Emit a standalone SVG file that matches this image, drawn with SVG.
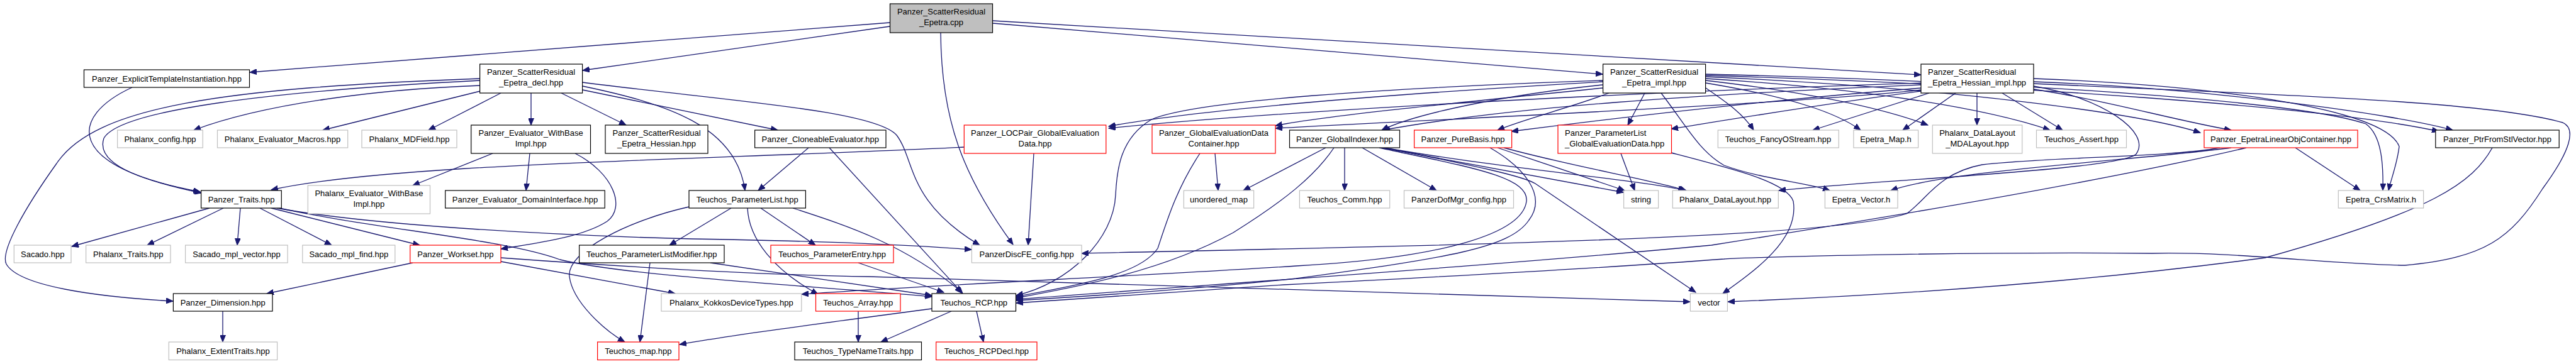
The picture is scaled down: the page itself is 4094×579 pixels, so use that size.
<svg xmlns="http://www.w3.org/2000/svg" width="4094" height="579" viewBox="0 0 4094 579">
<style>
.e path{fill:none;stroke:#191970;stroke-width:1.3;marker-end:url(#a)}
rect{fill:#fff;stroke:#000;stroke-width:1.2}
.g rect{stroke:#bfbfbf}
.r rect{stroke:#ff0000}
.c rect{fill:#bfbfbf}
text{font-family:"Liberation Sans",Arial,Helvetica,sans-serif;font-size:13px;fill:#000;text-anchor:middle}
text.l{text-anchor:start}
</style>
<defs>
<marker id="a" markerUnits="userSpaceOnUse" markerWidth="12" markerHeight="9" refX="11" refY="4.5" orient="auto"><path d="M0,0 L11,4.5 L0,9 z" fill="#191970" stroke="#191970" stroke-width="1"/></marker>
</defs>
<rect x="0" y="0" width="4094" height="579" style="fill:#fff;stroke:none"/>
<g class="e" id="edges">
<path d="M1414,36 L397,115"/>
<path d="M1414,42 L926,112"/>
<path d="M1578,37 L2547,118"/>
<path d="M1578,33 L3053,119"/>
<path d="M1495,52 C1496,190 1530,280 1610,389"/>
<path d="M210,139 C110,185 100,265 318,305"/>
<path d="M763,136 C600,142 420,165 308,207"/>
<path d="M763,145 L513,207"/>
<path d="M796,148 L681,207"/>
<path d="M844,148 L844,199"/>
<path d="M892,148 L995,199"/>
<path d="M926,143 L1236,207"/>
<path d="M926,137 C1060,165 1170,200 1184,303"/>
<path d="M926,131 C1150,160 1390,175 1425,215 C1455,255 1440,320 1557,390"/>
<path d="M763,128 C430,145 190,175 165,220 C150,265 240,290 320,307"/>
<path d="M763,125 C350,140 150,170 90,260 C40,330 0,400 10,420 C30,455 150,472 275,479"/>
<path d="M783,244 L656,295"/>
<path d="M842,244 L836,303"/>
<path d="M914,244 C975,275 995,330 965,352 C925,378 850,387 796,396"/>
<path d="M1285,235 L1205,303"/>
<path d="M1318,235 L1530,467"/>
<path d="M1532,234 C1100,255 620,260 431,302"/>
<path d="M1643,244 L1634,390"/>
<path d="M1931,244 L1936,303"/>
<path d="M1907,244 C1870,300 1855,350 1840,395 C1810,440 1700,455 1615,472"/>
<path d="M2107,235 L1976,303"/>
<path d="M2120,235 C2090,280 2040,320 1960,370 C1850,430 1720,455 1615,474"/>
<path d="M2137,235 L2137,303"/>
<path d="M2165,235 L2283,303"/>
<path d="M2196,235 L2580,306"/>
<path d="M2200,235 C2400,270 2600,285 2678,303"/>
<path d="M2192,235 C2330,265 2430,280 2426,320 C2420,370 2300,410 2060,423 C1800,440 1500,452 1274,468"/>
<path d="M2200,235 C2350,265 2420,280 2440,292 L2695,465"/>
<path d="M2368,235 C2420,265 2460,310 2430,350 C2400,395 2300,410 2060,443 C1900,460 1750,470 1615,478"/>
<path d="M2380,235 L2582,303"/>
<path d="M2390,235 C2500,265 2620,285 2680,303"/>
<path d="M2576,244 L2598,303"/>
<path d="M2656,243 C2760,270 2840,290 2850,320 C2860,380 2790,430 2738,467"/>
<path d="M2547,135 C2400,150 2250,180 2196,207"/>
<path d="M2557,148 C2500,170 2420,190 2380,207"/>
<path d="M2614,148 L2587,199"/>
<path d="M2547,130 C2200,150 1900,175 1762,201"/>
<path d="M2547,140 C2300,165 2100,185 2027,200"/>
<path d="M2547,128 C2200,140 1900,160 1830,190 C1780,220 1775,270 1773,310 C1770,380 1700,450 1615,470"/>
<path d="M2640,148 C2680,200 2700,240 2740,263 C2800,285 2870,290 2908,303"/>
<path d="M2711,140 C2740,160 2770,180 2787,207"/>
<path d="M2711,132 C2850,155 2920,180 2957,207"/>
<path d="M2711,128 C2900,150 3000,175 3064,199"/>
<path d="M2711,125 C2950,140 3150,170 3258,207"/>
<path d="M2711,122 C3100,140 3400,180 3497,211"/>
<path d="M2711,120 C3200,135 3700,170 3876,209"/>
<path d="M2711,118 C3200,130 3650,160 3760,197 C3785,215 3788,260 3787,303"/>
<path d="M3232,137 C3340,155 3420,210 3395,245 C3370,270 3000,285 2827,303"/>
<path d="M3066,148 L2881,207"/>
<path d="M3108,148 L3024,207"/>
<path d="M3142,148 L3142,199"/>
<path d="M3182,148 L3278,207"/>
<path d="M3053,135 C2700,150 2400,170 2198,207"/>
<path d="M3053,140 C2800,160 2550,190 2402,209"/>
<path d="M3053,145 C2900,165 2750,190 2656,205"/>
<path d="M3053,132 C2500,150 2000,180 1762,204"/>
<path d="M3053,143 C2900,160 2600,175 2027,204"/>
<path d="M3232,142 C3350,160 3450,190 3546,207"/>
<path d="M3232,130 C3500,140 3800,180 3898,207"/>
<path d="M3232,125 C3500,135 3790,170 3813,233 C3810,260 3800,285 3796,303"/>
<path d="M3232,133 C3600,150 3950,160 4073,195 C4095,205 4085,240 4041,300 C3990,380 3950,410 3822,422 C3700,420 3550,400 3420,403 C3100,400 2750,410 2740,412 C2500,430 2200,445 2040,453 C1850,465 1700,475 1615,482"/>
<path d="M3528,235 C3450,250 3250,250 3150,262 C3080,275 3060,320 3030,340 C2900,380 2300,390 1719,403"/>
<path d="M3546,235 C3400,255 3100,270 3005,303"/>
<path d="M3570,235 C3400,275 3100,330 2720,390 C2400,420 2100,440 1615,476"/>
<path d="M3648,235 L3751,303"/>
<path d="M3961,235 C3930,290 3870,335 3600,410 C3300,450 3000,470 2746,480"/>
<path d="M656,418 L424,467"/>
<path d="M796,416 L1073,467"/>
<path d="M796,410 C1000,425 1200,437 1380,440 C1700,450 2100,462 2686,480"/>
<path d="M333,331 L114,392"/>
<path d="M355,331 L234,390"/>
<path d="M382,331 L377,390"/>
<path d="M413,331 L527,390"/>
<path d="M431,331 L667,390"/>
<path d="M440,331 C600,360 900,375 1100,380 C1300,383 1450,390 1544,397"/>
<path d="M444,331 C600,365 800,380 890,413 C1000,440 1300,455 1481,472"/>
<path d="M1162,331 L1064,390"/>
<path d="M1209,331 L1296,390"/>
<path d="M1095,329 C1000,350 900,400 905,440 C910,480 960,525 993,544"/>
<path d="M1188,331 C1190,380 1230,430 1300,468"/>
<path d="M1260,331 C1350,360 1440,390 1529,465"/>
<path d="M1033,418 L1017,544"/>
<path d="M1129,418 L1481,470"/>
<path d="M1364,418 L1500,465"/>
<path d="M1364,495 L1364,544"/>
<path d="M1481,491 C1300,515 1150,535 1080,548"/>
<path d="M1512,495 L1400,544"/>
<path d="M1552,495 L1563,544"/>
<path d="M354,495 L354,544"/>
</g>
<g id="n0" class="c"><rect x="1414.5" y="6" width="163" height="46"/><text x="1496" y="23">Panzer_ScatterResidual</text><text x="1496" y="40">_Epetra.cpp</text></g>
<g id="n1"><rect x="133.5" y="111" width="263" height="28"/><text x="265" y="130">Panzer_ExplicitTemplateInstantiation.hpp</text></g>
<g id="n2"><rect x="762.6" y="102" width="163" height="46"/><text x="844" y="119">Panzer_ScatterResidual</text><text x="844" y="136">_Epetra_decl.hpp</text></g>
<g id="n3"><rect x="2547.6" y="102" width="163" height="46"/><text x="2629" y="119">Panzer_ScatterResidual</text><text x="2629" y="136">_Epetra_impl.hpp</text></g>
<g id="n4"><rect x="3053" y="102" width="179" height="46"/><text class="l" x="3064" y="119">Panzer_ScatterResidual</text><text class="l" x="3064" y="136">_Epetra_Hessian_impl.hpp</text></g>
<g id="n5" class="g"><rect x="186.6" y="207" width="135.7" height="28"/><text x="254.5" y="226">Phalanx_config.hpp</text></g>
<g id="n6" class="g"><rect x="345.5" y="207" width="207.2" height="28"/><text x="449" y="226">Phalanx_Evaluator_Macros.hpp</text></g>
<g id="n7" class="g"><rect x="575" y="207" width="151" height="28"/><text x="650.5" y="226">Phalanx_MDField.hpp</text></g>
<g id="n8"><rect x="748.75" y="199" width="189.75" height="45"/><text x="843.6" y="216">Panzer_Evaluator_WithBase</text><text x="843.6" y="233">Impl.hpp</text></g>
<g id="n9"><rect x="962" y="199" width="163" height="45"/><text x="1043.5" y="216">Panzer_ScatterResidual</text><text x="1043.5" y="233">_Epetra_Hessian.hpp</text></g>
<g id="n10"><rect x="1199.6" y="207" width="208.4" height="28"/><text x="1303.8" y="226">Panzer_CloneableEvaluator.hpp</text></g>
<g id="n11" class="r"><rect x="1532.3" y="199" width="225.5" height="45"/><text x="1645" y="216">Panzer_LOCPair_GlobalEvaluation</text><text x="1645" y="233">Data.hpp</text></g>
<g id="n12" class="r"><rect x="1831" y="199" width="196" height="45"/><text x="1929" y="216">Panzer_GlobalEvaluationData</text><text x="1929" y="233">Container.hpp</text></g>
<g id="n13"><rect x="2049.5" y="207" width="175" height="28"/><text x="2137" y="226">Panzer_GlobalIndexer.hpp</text></g>
<g id="n14" class="r"><rect x="2247.6" y="207" width="155" height="28"/><text x="2325" y="226">Panzer_PureBasis.hpp</text></g>
<g id="n15" class="r"><rect x="2476" y="199" width="180.5" height="45"/><text class="l" x="2487" y="216">Panzer_ParameterList</text><text class="l" x="2487" y="233">_GlobalEvaluationData.hpp</text></g>
<g id="n16" class="g"><rect x="2730.3" y="207" width="192" height="28"/><text x="2826" y="226">Teuchos_FancyOStream.hpp</text></g>
<g id="n17" class="g"><rect x="2945.9" y="207" width="102.7" height="28"/><text x="2997" y="226">Epetra_Map.h</text></g>
<g id="n18" class="g"><rect x="3071.3" y="199" width="142.5" height="45"/><text x="3142.5" y="216">Phalanx_DataLayout</text><text x="3142.5" y="233">_MDALayout.hpp</text></g>
<g id="n19" class="g"><rect x="3236.5" y="207" width="143" height="28"/><text x="3308" y="226">Teuchos_Assert.hpp</text></g>
<g id="n20" class="r"><rect x="3503" y="207" width="244" height="28"/><text x="3625" y="226">Panzer_EpetraLinearObjContainer.hpp</text></g>
<g id="n21"><rect x="3870.8" y="207" width="196.4" height="28"/><text x="3969" y="226">Panzer_PtrFromStlVector.hpp</text></g>
<g id="n22"><rect x="319.6" y="303" width="127.7" height="28"/><text x="383.5" y="322">Panzer_Traits.hpp</text></g>
<g id="n23" class="g"><rect x="489.3" y="295" width="194.2" height="45"/><text x="586.4" y="312">Phalanx_Evaluator_WithBase</text><text x="586.4" y="329">Impl.hpp</text></g>
<g id="n24"><rect x="707.7" y="303" width="253.5" height="28"/><text x="834.5" y="322">Panzer_Evaluator_DomainInterface.hpp</text></g>
<g id="n25"><rect x="1095" y="303" width="185.4" height="28"/><text x="1187.7" y="322">Teuchos_ParameterList.hpp</text></g>
<g id="n26" class="g"><rect x="1881.4" y="303" width="111.2" height="28"/><text x="1937" y="322">unordered_map</text></g>
<g id="n27" class="g"><rect x="2065.4" y="303" width="143.3" height="28"/><text x="2137" y="322">Teuchos_Comm.hpp</text></g>
<g id="n28" class="g"><rect x="2231.5" y="303" width="174" height="28"/><text x="2318.5" y="322">PanzerDofMgr_config.hpp</text></g>
<g id="n29" class="g"><rect x="2580.6" y="303" width="55" height="28"/><text x="2608" y="322">string</text></g>
<g id="n30" class="g"><rect x="2658.3" y="303" width="168" height="28"/><text x="2742" y="322">Phalanx_DataLayout.hpp</text></g>
<g id="n31" class="g"><rect x="2900.4" y="303" width="115.6" height="28"/><text x="2958" y="322">Epetra_Vector.h</text></g>
<g id="n32" class="g"><rect x="3716.3" y="303" width="135.3" height="28"/><text x="3784" y="322">Epetra_CrsMatrix.h</text></g>
<g id="n33" class="g"><rect x="22.3" y="390" width="90.7" height="28"/><text x="67.7" y="409">Sacado.hpp</text></g>
<g id="n34" class="g"><rect x="136.6" y="390" width="134.4" height="28"/><text x="203.8" y="409">Phalanx_Traits.hpp</text></g>
<g id="n35" class="g"><rect x="294.6" y="390" width="162.5" height="28"/><text x="375.9" y="409">Sacado_mpl_vector.hpp</text></g>
<g id="n36" class="g"><rect x="480.8" y="390" width="147" height="28"/><text x="554.3" y="409">Sacado_mpl_find.hpp</text></g>
<g id="n37" class="r"><rect x="651.8" y="390" width="144.2" height="28"/><text x="723.9" y="409">Panzer_Workset.hpp</text></g>
<g id="n38"><rect x="920.6" y="390" width="230.4" height="28"/><text x="1035.8" y="409">Teuchos_ParameterListModifier.hpp</text></g>
<g id="n39" class="r"><rect x="1225" y="390" width="195" height="28"/><text x="1322.5" y="409">Teuchos_ParameterEntry.hpp</text></g>
<g id="n40" class="g"><rect x="1544.4" y="390" width="174.6" height="28"/><text x="1631.7" y="409">PanzerDiscFE_config.hpp</text></g>
<g id="n41"><rect x="275.4" y="467" width="157.6" height="28"/><text x="354.2" y="486">Panzer_Dimension.hpp</text></g>
<g id="n42" class="g"><rect x="1051" y="467" width="222.8" height="28"/><text x="1162.4" y="486">Phalanx_KokkosDeviceTypes.hpp</text></g>
<g id="n43" class="r"><rect x="1296.5" y="467" width="134.5" height="28"/><text x="1363.75" y="486">Teuchos_Array.hpp</text></g>
<g id="n44"><rect x="1481" y="467" width="133.5" height="28"/><text x="1547.75" y="486">Teuchos_RCP.hpp</text></g>
<g id="n45" class="g"><rect x="2686.4" y="467" width="59" height="28"/><text x="2716" y="486">vector</text></g>
<g id="n46" class="g"><rect x="268.3" y="544" width="172.3" height="28.5"/><text x="354.5" y="563">Phalanx_ExtentTraits.hpp</text></g>
<g id="n47" class="r"><rect x="949.6" y="544" width="129.4" height="28.5"/><text x="1014.3" y="563">Teuchos_map.hpp</text></g>
<g id="n48"><rect x="1263" y="544" width="201.5" height="28.5"/><text x="1363.75" y="563">Teuchos_TypeNameTraits.hpp</text></g>
<g id="n49" class="r"><rect x="1487.7" y="544" width="160.3" height="28.5"/><text x="1567.9" y="563">Teuchos_RCPDecl.hpp</text></g>
</svg>
